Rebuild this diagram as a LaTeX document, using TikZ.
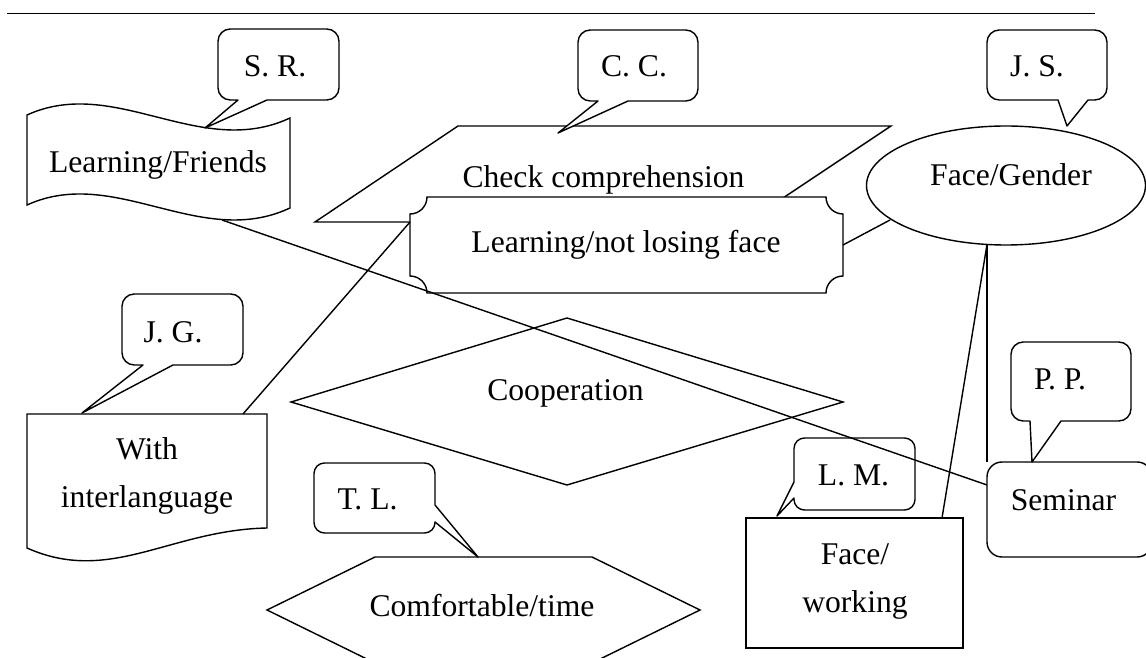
\documentclass[tikz,border=0pt]{standalone}
\usepackage{fontspec}
\setmainfont{Liberation Serif}

\begin{document}
\begin{tikzpicture}[x=0.02cm, y=-0.02cm,
    outline/.style={line width=0.8pt, fill=white},
    bubble/.style={line width=0.8pt, fill=white, line join=round},
    link/.style={line width=0.8pt},
    txt/.style={font=\fontsize{18}{27.5}\selectfont, inner sep=0pt, anchor=base, align=center}]
    \useasboundingbox (0,0) rectangle (1146,658);
    \clip (0,0) rectangle (1146,658);

    % rule at the top
    \draw[line width=1.1pt] (7,13.5) -- (1095,13.5);

    % Shapes
    \draw[outline] (27,115) .. controls (115,75) and (200,160) .. (290,118)
        -- (290,208) .. controls (200,250) and (115,165) .. (27,205) -- cycle;
    \draw[outline] (458,126) -- (891,126) -- (747,222) -- (315,222) -- cycle;
    \draw[outline] (427,197) -- (826,197) .. controls (826,206.4) and (833.6,214) .. (843,214)
        -- (843,276) .. controls (833.6,276) and (826,283.6) .. (826,293)
        -- (427,293) .. controls (427,283.6) and (419.4,276) .. (410,276)
        -- (410,214) .. controls (419.4,214) and (427,206.4) .. (427,197) -- cycle;
    \draw[outline] (1006,185.5) ellipse [x radius=139.5, y radius=59.5];
    \draw[outline] (27,414) -- (267,414) -- (267,528)
        .. controls (170,530) and (110,585) .. (27,548) -- cycle;
    \draw[outline] (567,318) -- (843,402) -- (567,485) -- (291,402) -- cycle;
    \draw[outline] (375,557) -- (592,557) -- (700,610) -- (592,663) -- (375,663) -- (267,610) -- cycle;
    \draw[outline] (746,518) rectangle (963,648);
    \draw[outline, rounded corners=8.5pt] (987,462) rectangle (1152,557);

    % Callouts: pointer first, then the rounded box
    \draw[bubble] (238,100) -- (205,128) -- (267,100) [rounded corners=7pt]
        -- (339,100) -- (339,29) -- (218,29) -- (218,100) [sharp corners] -- cycle;
    \draw[bubble] (598,101) -- (558,133) -- (628,101) [rounded corners=7pt]
        -- (698,101) -- (698,30) -- (578,30) -- (578,101) [sharp corners] -- cycle;
    \draw[bubble] (1058,100) -- (1067,126) -- (1088,100) [rounded corners=7pt]
        -- (1107,100) -- (1107,30) -- (987,30) -- (987,100) [sharp corners] -- cycle;
    \draw[bubble] (143,365) -- (82,413) -- (173,365) [rounded corners=7pt]
        -- (243,365) -- (243,294) -- (122,294) -- (122,365) [sharp corners] -- cycle;
    \draw[bubble] (1030,421) -- (1032,462) -- (1061,421) [rounded corners=7pt]
        -- (1131,421) -- (1131,342) -- (1011,342) -- (1011,421) [sharp corners] -- cycle;
    \draw[bubble] (435,505) -- (478,557) -- (435,522) [rounded corners=6pt]
        -- (435,533) -- (314,533) -- (314,463) -- (435,463) [sharp corners] -- cycle;
    \draw[bubble] (794,482) -- (777,516) -- (794,498) [rounded corners=6pt]
        -- (794,510) -- (915,510) -- (915,438) -- (794,438) [sharp corners] -- cycle;

    % Labels
    \node[txt] (friends) at (158,172.5) {Learning/Friends};
    \node[txt] (sr) at (275,77) {S. R.};
    \node[txt] (cc) at (634,77) {C. C.};
    \node[txt] (js) at (1037,77) {J. S.};
    \node[txt] (check) at (603.5,188) {Check comprehension};
    \node[txt] (notlose) at (626,252.5) {Learning/not losing face};
    \node[txt] (gender) at (1011,185.5) {Face/Gender};
    \node[txt] (jg) at (173,342.5) {J. G.};
    \node[txt] (inter) at (147,507.5) {With\\interlanguage};
    \node[txt] (coop) at (565.5,400.5) {Cooperation};
    \node[txt] (tl) at (367.5,509) {T. L.};
    \node[txt] (comfort) at (482,616.5) {Comfortable/time};
    \node[txt] (lm) at (853.5,485.5) {L. M.};
    \node[txt] (pp) at (1060,390) {P. P.};
    \node[txt] (seminar) at (1063.5,510) {Seminar};
    \node[txt] (facework) at (855,612.5) {Face/\\working};

    % Define connector end points
    \coordinate (friends-b) at (222,220);
    \coordinate (seminar-w) at (987,485);
    \coordinate (inter-n) at (243,414);
    \coordinate (notlose-w) at (410,222);
    \coordinate (notlose-e) at (843,245);
    \coordinate (gender-w) at (890,220);
    \coordinate (gender-s) at (987,244.5);
    \coordinate (facework-n) at (942,518);
    \coordinate (seminar-n) at (987,462);

    % Connectors
    \draw[link] (friends-b) -- (seminar-w);
    \draw[link] (inter-n) -- (notlose-w);
    \draw[link] (notlose-e) -- (gender-w);
    \draw[link] (gender-s) -- (facework-n);
    \draw[link] (gender-s) -- (seminar-n);
\end{tikzpicture}
\end{document}
